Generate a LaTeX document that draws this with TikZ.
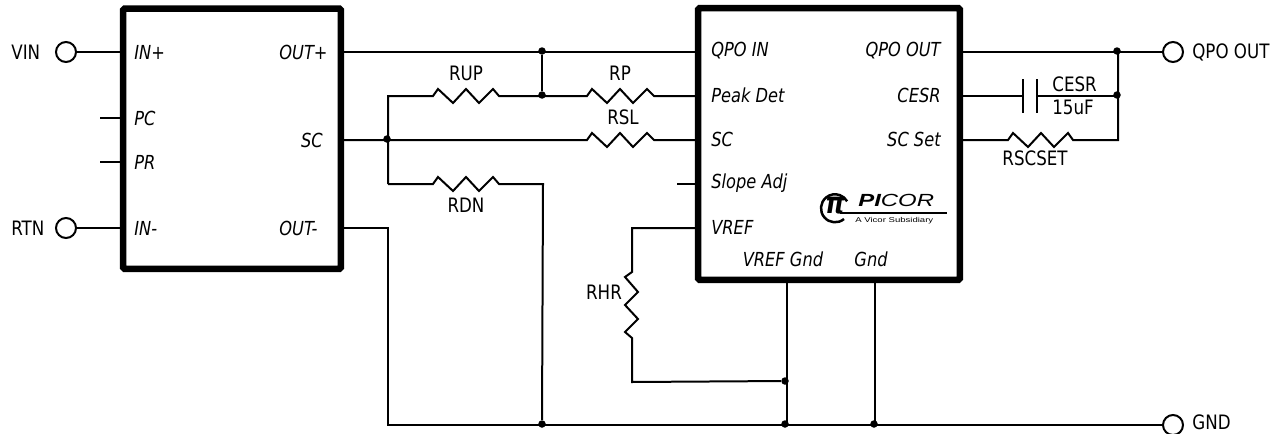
\documentclass[tikz,border=0pt]{standalone}
\usepackage{fontspec}
\setmainfont{DejaVu Sans}[FakeStretch=0.84]
\newfontfamily\logofont{Liberation Sans}[FakeStretch=1.36]
\usepackage{tikz}
\usetikzlibrary{shapes}

\tikzset{
  chip/.style={draw, line width=0.13cm, rounded corners=1pt, inner sep=0pt},
  wire/.style={line width=0.04cm},
  term/.style={draw, circle, line width=0.04cm, minimum size=0.4cm, inner sep=0pt},
  junc/.style={fill, circle, minimum size=0.15cm, inner sep=0pt},
  pinl/.style={anchor=west, inner sep=0pt, font=\fontsize{11}{13}\selectfont\itshape},
  pinr/.style={anchor=east, inner sep=0pt, font=\fontsize{11}{13}\selectfont\itshape},
  lab/.style={inner sep=0pt, font=\fontsize{11.3}{13}\selectfont},
  zigh/.style={to path={-- ++(5,-7) -- ++(15,14) -- ++(13,-14) -- ++(13,14) -- ++(14,-14) -- (\tikztotarget)}},
  zigv/.style={to path={-- ++(-7,5) -- ++(13,15) -- ++(-13,13) -- ++(13,14) -- ++(-13,13) -- (\tikztotarget)}}
}

\begin{document}
\begin{tikzpicture}[x=0.02cm, y=-0.02cm]
    \useasboundingbox (0,0) rectangle (1278,433);

    % the two blocks
    \node[chip, minimum width=4.36cm, minimum height=5.21cm] (conv) at (232,138.75) {};
    \node[chip, minimum width=5.24cm, minimum height=5.44cm] (qpo) at (829,144) {};

    % pin texts
    \node[pinl] (inp) at (134,52) {IN+};
    \node[pinl] (pc) at (134,118) {PC};
    \node[pinl] (pr) at (134,162) {PR};
    \node[pinl] (inm) at (134,228) {IN-};
    \node[pinl] (outp) at (279,52) {OUT+};
    \node[pinr] (scout) at (323,140) {SC};
    \node[pinl] (outm) at (279,228) {OUT-};
    \node[pinl] (qpoin) at (711,51) {QPO IN};
    \node[pinl] (peak) at (711,95) {Peak Det};
    \node[pinl] (scin) at (711,139) {SC};
    \node[pinl] (slope) at (711,183) {Slope Adj};
    \node[pinl] (vref) at (711,227) {VREF};
    \node[pinr] (qpoout) at (941,51) {QPO OUT};
    \node[pinr] (cesrpin) at (941,95) {CESR};
    \node[pinr] (scset) at (941,139) {SC Set};
    \node[pinl, anchor=center] (vrefgnd) at (783,259) {VREF Gnd};
    \node[pinl, anchor=center] (gndpin) at (871,259) {Gnd};

    % terminals
    \node[term] (vin) at (66,52) {};
    \node[term] (rtn) at (66,228) {};
    \node[term] (qpot) at (1173,52) {};
    \node[term] (gnd) at (1173,425) {};
    \node[lab, anchor=west] (vinlab) at (11,52) {VIN};
    \node[lab, anchor=west] (rtnlab) at (11,228) {RTN};
    \node[lab, anchor=west] (qpolab) at (1192,52) {QPO OUT};
    \node[lab, anchor=west] (gndlab) at (1192,422) {GND};

    % junctions
    \node[junc] (j1) at (542,51) {};
    \node[junc] (j2) at (542,95) {};
    \node[junc] (j3) at (387,139) {};
    \node[junc] (j4) at (542,424) {};
    \node[junc] (j5) at (785,424) {};
    \node[junc] (j6) at (874,424) {};
    \node[junc] (j7) at (785,381) {};
    \node[junc] (j8) at (1117,51) {};
    \node[junc] (j9) at (1117,95) {};

    % free ends and corners
    \coordinate (pcend) at (100,118);
    \coordinate (prend) at (100,162);
    \coordinate (slend) at (677,184);
    \coordinate (upc) at (388,96);
    \coordinate (dnc) at (388,184);
    \coordinate (outc) at (388,228);
    \coordinate (dnj) at (543,184);
    \coordinate (rupa) at (433,96);
    \coordinate (rupb) at (499,96);
    \coordinate (rpa) at (587,96);
    \coordinate (rpb) at (654,96);
    \coordinate (rsla) at (587,140);
    \coordinate (rslb) at (654,140);
    \coordinate (rdna) at (433,184);
    \coordinate (rdnb) at (499,184);
    \coordinate (rhrc) at (632,228);
    \coordinate (rhra) at (632,272);
    \coordinate (rhrb) at (632,338);
    \coordinate (rhrd) at (632,382);
    \coordinate (capa) at (1023,96);
    \coordinate (capb) at (1037,96);
    \coordinate (rsa) at (1008,140);
    \coordinate (rsb) at (1073,140);
    \coordinate (rsc) at (1118,140);

    % wires
    \draw[wire] (vin) -- (vin -| conv.west);
    \draw[wire] (rtn) -- (rtn -| conv.west);
    \draw[wire] (pcend) -- (pcend -| conv.west);
    \draw[wire] (prend) -- (prend -| conv.west);
    \draw[wire] (slend) -- (slend -| qpo.west);
    \draw[wire] (conv.east |- qpot) -- (qpo.west |- qpot);
    \draw[wire] (conv.east |- rsla) -- (rsla) to[zigh] (rslb) -- (qpo.west |- rslb);
    \draw[wire] (j1) -- (j2);
    \draw[wire] (dnc) -- (upc) -- (rupa) to[zigh] (rupb) -- (rpa) to[zigh] (rpb) -- (qpo.west |- rpb);
    \draw[wire] (dnc) -- (rdna) to[zigh] (rdnb) -- (dnj) -- (j4);
    \draw[wire] (conv.east |- outc) -- (outc) -- (outc |- gnd) -- (gnd);
    \draw[wire] (qpo.west |- rhrc) -- (rhrc) -- (rhra) to[zigv] (rhrb) -- (rhrd) -- (j7);
    \draw[wire] (qpo.south -| 787,0) -- (787,425);
    \draw[wire] (qpo.south -| 875,0) -- (875,425);
    \draw[wire] (qpo.east |- qpot) -- (qpot);
    \draw[wire] (qpo.east |- capa) -- (capa);
    \draw[wire] (capb) -- (capb -| j9);
    \draw[wire] (capa) ++(0,-17) -- ++(0,34);
    \draw[wire] (capb) ++(0,-17) -- ++(0,34);
    \draw[wire] (qpo.east |- rsa) -- (rsa) to[zigh] (rsb) -- (rsc) -- (rsc |- j8);

    % part names
    \node[lab] (rup) at (466,73) {RUP};
    \node[lab] (rp) at (620,73) {RP};
    \node[lab] (rsl) at (623,117) {RSL};
    \node[lab] (rdn) at (466,205) {RDN};
    \node[lab] (rhr) at (604,292) {RHR};
    \node[lab, anchor=west] (cesr) at (1052,84) {CESR};
    \node[lab, anchor=west] (cval) at (1052,107) {15uF};
    \node[lab] (rscset) at (1035,158) {RSCSET};

    % logo
    \draw[line width=0.05cm] (844,219) arc[start angle=50, end angle=330, x radius=14, y radius=14];
    \node[lab, font=\fontsize{17}{17}\selectfont\bfseries\itshape] (logopi) at (835,206) {π};
    \node[inner sep=0pt, anchor=west, align=left, font=\logofont] (logoname) at (855,209)
      {\fontsize{10}{10}\selectfont\hspace*{0.06cm}\textit{\textbf{PI}COR}\\[-2.8pt]\fontsize{4}{4}\selectfont A Vicor Subsidiary};
    \draw[line width=0.03cm] (840,213) -- (947,213);
\end{tikzpicture}
\end{document}
